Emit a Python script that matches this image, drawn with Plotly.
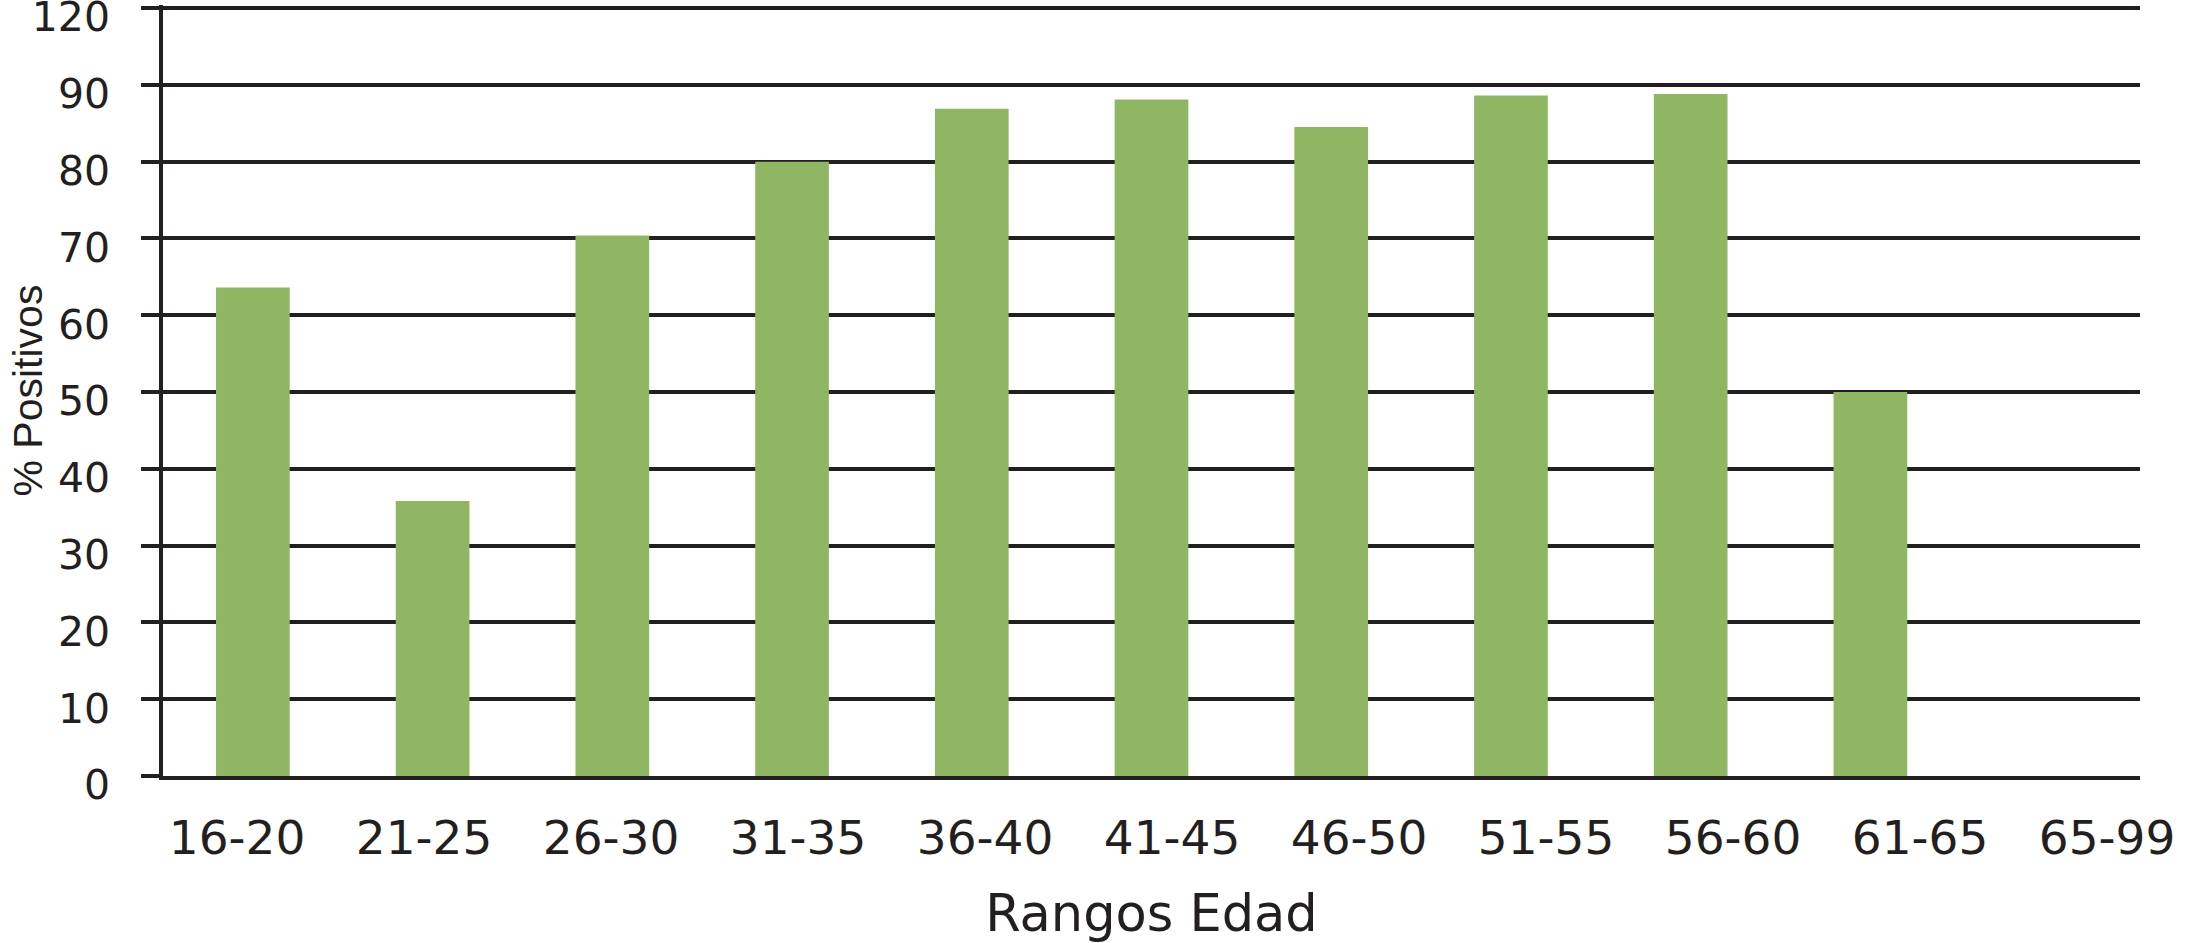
import plotly.graph_objects as go

categories = ["16-20", "21-25", "26-30", "31-35", "36-40", "41-45",
              "46-50", "51-55", "56-60", "61-65", "65-99"]
positivos = [63.6, 35.8, 70.4, 80.0, 86.9, 88.1, 84.5, 88.6, 88.8, 50.0, 0]
y_tickvals = [0, 10, 20, 30, 40, 50, 60, 70, 80, 90, 100]
y_ticktext = ["0", "10", "20", "30", "40", "50", "60", "70", "80", "90", "120"]

INK = "#231f20"
BAR = "#8fb763"

fig = go.Figure()
fig.add_trace(go.Bar(x=categories, y=positivos, marker=dict(color=BAR, line=dict(width=0)),
                     width=0.41, hoverinfo="x+y"))
# transparent companion trace that carries the label row (labels in the source are spread slightly wider)
fig.add_trace(go.Scatter(x=list(range(len(categories))), y=positivos, xaxis="x2", yaxis="y",
                         mode="markers", marker=dict(opacity=0, size=1), hoverinfo="skip"))

fig.update_layout(
    width=2189, height=943,
    margin=dict(l=163, r=49, t=5, b=167),
    paper_bgcolor="white", plot_bgcolor="white",
    showlegend=False,
    font=dict(family="DejaVu Sans", color=INK),
    xaxis=dict(
        type="category", range=[-0.5, 10.5], automargin=False,
        showline=True, linecolor=INK, linewidth=4,
        showgrid=False, ticks="", showticklabels=False,
    ),
    xaxis2=dict(
        overlaying="x", anchor="y", side="bottom", automargin=False,
        range=[-0.396, 10.176], tickmode="array",
        tickvals=list(range(len(categories))), ticktext=categories,
        showgrid=False, zeroline=False, showline=False, ticks="",
        ticklabelstandoff=30, ticklabeloverflow="allow",
        tickfont=dict(family="DejaVu Sans", size=47, color=INK),
        title=dict(text="Rangos Edad", font=dict(family="DejaVu Sans", size=51, color=INK), standoff=34),
    ),
    yaxis=dict(
        range=[0, 100.4], tickmode="array", tickvals=y_tickvals, ticktext=y_ticktext,
        automargin=False,
        showline=True, linecolor=INK, linewidth=3.5,
        showgrid=True, gridcolor=INK, gridwidth=3.5,
        zeroline=False,
        ticks="outside", ticklen=18, tickwidth=3.5, tickcolor=INK,
        ticklabelstandoff=23, ticklabeloverflow="allow", ticklabelshift=9,
        tickfont=dict(family="DejaVu Sans", size=41, color=INK),
    ),
    annotations=[dict(
        text="% Positivos", textangle=-90, xref="paper", yref="paper",
        x=0, y=0.5, xanchor="center", yanchor="middle", xshift=-136, showarrow=False,
        font=dict(family="Liberation Sans", size=41, color=INK),
    )],
)

fig.write_html("out.html", config={"displayModeBar": False},
               post_script="document.body.style.margin='0';")
